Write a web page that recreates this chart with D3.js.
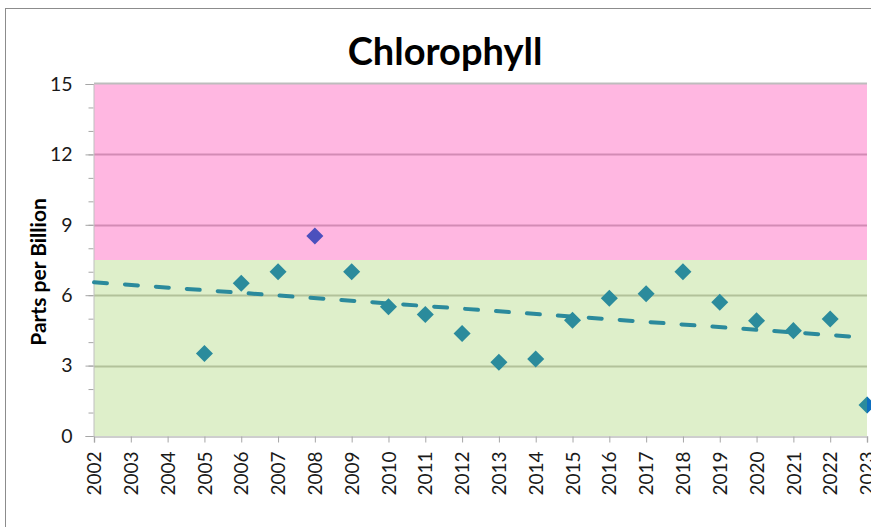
<!DOCTYPE html>
<html>
<head>
<meta charset="utf-8">
<script src="https://cdn.jsdelivr.net/npm/d3@7"></script>
<style>
  html, body { margin: 0; padding: 0; background: #ffffff; }
  svg { display: block; }
</style>
</head>
<body>
<svg id="chart" width="871" height="527"></svg>
<script>
// ---- data ----
const title = "Chlorophyll";
const yAxisTitle = "Parts per Billion";
const axisYears = [2002, 2003, 2004, 2005, 2006, 2007, 2008, 2009, 2010, 2011, 2012,
                   2013, 2014, 2015, 2016, 2017, 2018, 2019, 2020, 2021, 2022, 2023];
const yTicks = [0, 3, 6, 9, 12, 15];
const yMinorTicks = d3.range(0, 16, 1);
const sampleYears = [2005, 2006, 2007, 2008, 2009, 2010, 2011, 2012, 2013, 2014, 2015,
                     2016, 2017, 2018, 2019, 2020, 2021, 2022, 2023];
const sampleValues = [3.52, 6.51, 7.0, 8.52, 7.0, 5.51, 5.18, 4.37, 3.14, 3.28, 4.93,
                      5.87, 6.06, 7.0, 5.70, 4.91, 4.49, 4.99, 1.32];
const highlightYears = [2008];          // purple marker
const latestYear = [2023];              // blue marker overlay
const trendYears = [2002, 2023];
const trendValues = [6.55, 4.19];
const bandLow = [0, 7.5];               // green band
const bandHigh = [7.5, 15];             // pink band

// ---- layout ----
const svg = d3.select("#chart");
const W = 871, H = 527;
const plot = { left: 94, right: 867, top: 84, bottom: 436 };

const x = d3.scaleLinear().domain([2002, 2023]).range([plot.left, plot.right]);
const y = d3.scaleLinear().domain([0, 15]).range([plot.bottom, plot.top]);

// chart border
svg.append("rect")
  .attr("x", 5.5).attr("y", 8.5)
  .attr("width", W + 20).attr("height", H + 20)
  .attr("fill", "#ffffff").attr("stroke", "#8c8c8c").attr("stroke-width", 1);

// bands
svg.append("rect")
  .attr("x", x(2002)).attr("width", x(2023) - x(2002))
  .attr("y", y(bandLow[1])).attr("height", y(bandLow[0]) - y(bandLow[1]))
  .attr("fill", "#DEEFCA");
svg.append("rect")
  .attr("x", x(2002)).attr("width", x(2023) - x(2002))
  .attr("y", y(bandHigh[1])).attr("height", y(bandHigh[0]) - y(bandHigh[1]))
  .attr("fill", "#FFB7E1");

// gridlines
svg.append("g").selectAll("line")
  .data(yTicks.filter(d => d > 0 && d < 15))
  .join("line")
  .attr("x1", x(2002)).attr("x2", x(2023))
  .attr("y1", d => Math.round(y(d)) + 0.5).attr("y2", d => Math.round(y(d)) + 0.5)
  .attr("stroke", d => d > 7.5 ? "#D38BB5" : "#B2C29A")
  .attr("stroke-width", 2);
svg.append("line")
  .attr("x1", x(2002)).attr("x2", x(2023))
  .attr("y1", y(15) - 0.5).attr("y2", y(15) - 0.5)
  .attr("stroke", "#BDBDBD").attr("stroke-width", 2);

// y axis
const yAxisMinor = d3.axisLeft(y).tickValues(yMinorTicks).tickSize(5).tickFormat("");
const gMinor = svg.append("g").attr("transform", `translate(${plot.left - 0.5},0)`).call(yAxisMinor);
gMinor.select(".domain").remove();
gMinor.selectAll("line").attr("stroke", "#A6A6A6");

const yAxis = d3.axisLeft(y).tickValues(yTicks).tickSize(8).tickPadding(13).tickFormat(d3.format("d"));
const gy = svg.append("g").attr("transform", `translate(${plot.left - 0.5},0)`).call(yAxis);
gy.select(".domain").attr("stroke", "#BFBFBF").attr("stroke-width", 1);
gy.selectAll(".tick line").attr("stroke", "#A6A6A6");
gy.selectAll("text")
  .attr("font-family", "Lato, 'Open Sans', sans-serif")
  .attr("font-size", 19.5).attr("fill", "#1a1a1a");

// x axis
const xAxis = d3.axisBottom(x).tickValues(axisYears).tickSize(6).tickFormat(d3.format("d"));
const gx = svg.append("g").attr("transform", `translate(0,${plot.bottom + 0.5})`).call(xAxis);
gx.select(".domain").attr("stroke", "#BFBFBF").attr("stroke-width", 1.5);
gx.selectAll(".tick line").attr("stroke", "#A6A6A6");
gx.selectAll("text")
  .attr("font-family", "Lato, 'Open Sans', sans-serif")
  .attr("font-size", 19).attr("fill", "#1a1a1a")
  .attr("text-anchor", "end")
  .attr("transform", "rotate(-90)")
  .attr("x", -15).attr("y", 0).attr("dy", "0.35em");

// trend line
svg.append("path")
  .datum(trendYears.map((yr, i) => [yr, trendValues[i]]))
  .attr("d", d3.line().x(d => x(d[0])).y(d => y(d[1])))
  .attr("fill", "none")
  .attr("stroke", "#2B8A9C")
  .attr("stroke-width", 4)
  .attr("stroke-linecap", "round")
  .attr("stroke-dasharray", "13 18");

// markers
const diamond = d3.symbol().type(d3.symbolSquare).size(145);
const pts = sampleYears.map((yr, i) => ({ yr, v: sampleValues[i] }));
svg.append("g").selectAll("path")
  .data(pts)
  .join("path")
  .attr("d", diamond)
  .attr("transform", d => `translate(${x(d.yr)},${y(d.v)}) rotate(45)`)
  .attr("fill", d => highlightYears.includes(d.yr) ? "#4B50BD" : "#2B8B9C");

// blue overlay on the latest point (right half)
svg.append("clipPath").attr("id", "rightHalf")
  .append("rect")
  .attr("x", x(2023)).attr("y", 0).attr("width", 40).attr("height", H);
svg.append("g").attr("clip-path", "url(#rightHalf)")
  .selectAll("path")
  .data(pts.filter(d => latestYear.includes(d.yr)))
  .join("path")
  .attr("d", diamond)
  .attr("transform", d => `translate(${x(d.yr)},${y(d.v)}) rotate(45)`)
  .attr("fill", "#0D6EC0");

// title
svg.append("text")
  .attr("x", 445).attr("y", 65)
  .attr("text-anchor", "middle")
  .attr("font-family", "Lato, 'Open Sans', sans-serif")
  .attr("font-weight", "bold")
  .attr("font-size", 38)
  .attr("fill", "#000")
  .text(title);

// y axis title
svg.append("text")
  .attr("transform", `translate(46,272) rotate(-90)`)
  .attr("text-anchor", "middle")
  .attr("font-family", "Lato, 'Open Sans', sans-serif")
  .attr("font-weight", "bold")
  .attr("font-size", 21)
  .attr("fill", "#000")
  .text(yAxisTitle);
</script>
</body>
</html>
